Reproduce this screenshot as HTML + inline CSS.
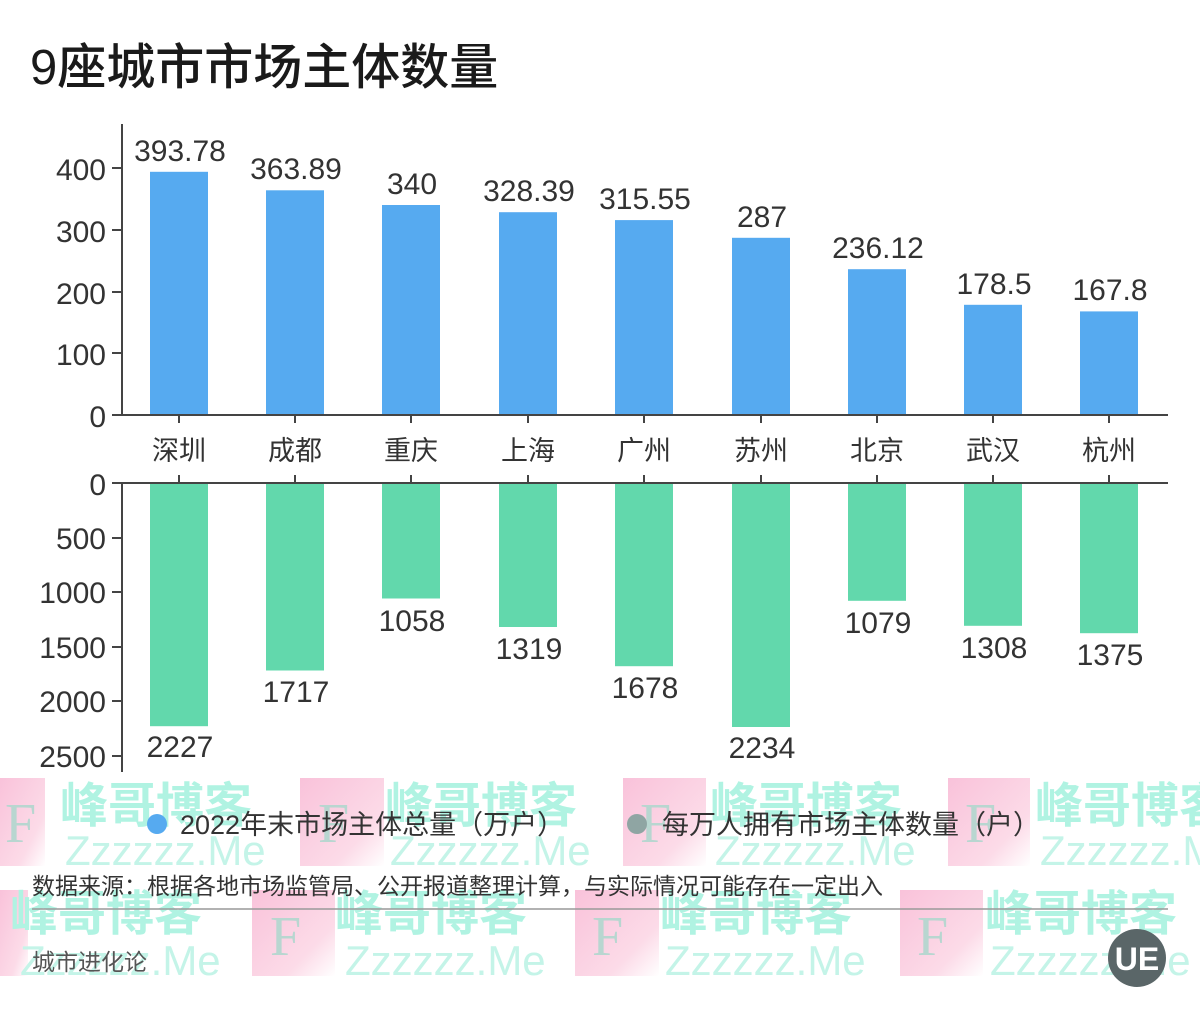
<!DOCTYPE html>
<html><head><meta charset="utf-8"><style>
html,body{margin:0;padding:0;background:#fff;}
svg{display:block;font-family:"Liberation Sans","Noto Sans CJK SC",sans-serif;}
</style></head><body>
<svg width="1200" height="1020" viewBox="0 0 1200 1020" xmlns="http://www.w3.org/2000/svg">
<rect width="1200" height="1020" fill="#fff"/>
<defs><linearGradient id="pk" x1="0" y1="0" x2="1" y2="1"><stop offset="0" stop-color="#f9c2da"/><stop offset="0.7" stop-color="#fcdbe8"/><stop offset="1" stop-color="#fff"/></linearGradient></defs>
<g fill="url(#pk)">
<rect x="0" y="778" width="45" height="88"/><rect x="300" y="778" width="84" height="88"/><rect x="623" y="778" width="83" height="88"/><rect x="948" y="778" width="82" height="88"/>
<rect x="0" y="890" width="28" height="86"/><rect x="252" y="890" width="83" height="86"/><rect x="575" y="890" width="84" height="86"/><rect x="900" y="890" width="83" height="86"/>
</g>
<g fill="#b8d6d0" font-family="Liberation Serif,serif" font-size="56">
<text x="5" y="842">F</text><text x="318" y="842">F</text><text x="640" y="842">F</text><text x="965" y="842">F</text>
<text x="270" y="955">F</text><text x="592" y="955">F</text><text x="917" y="955">F</text>
</g>
<g fill="#b0f3e2" font-weight="bold" font-size="48">
<text x="60" y="822">峰哥博客</text><text x="385" y="822">峰哥博客</text><text x="710" y="822">峰哥博客</text><text x="1035" y="822">峰哥博客</text>
<text x="10" y="930">峰哥博客</text><text x="335" y="930">峰哥博客</text><text x="660" y="930">峰哥博客</text><text x="985" y="930">峰哥博客</text>
</g>
<g fill="#c4f4e8" font-size="42">
<text x="65" y="865">Zzzzzz.Me</text><text x="390" y="865">Zzzzzz.Me</text><text x="715" y="865">Zzzzzz.Me</text><text x="1040" y="865">Zzzzzz.Me</text>
<text x="20" y="975">Zzzzzz.Me</text><text x="345" y="975">Zzzzzz.Me</text><text x="665" y="975">Zzzzzz.Me</text><text x="990" y="975">Zzzzzz.Me</text>
</g>
<text x="30" y="84" font-size="49" fill="#1a1a1a" font-weight="500">9座城市市场主体数量</text>
<g fill="#56aaf0">
<rect x="150" y="171.8" width="58" height="243.2"/>
<rect x="266" y="190.3" width="58" height="224.7"/>
<rect x="382" y="205" width="58" height="210"/>
<rect x="499" y="212.2" width="58" height="202.8"/>
<rect x="615" y="220.1" width="58" height="194.9"/>
<rect x="732" y="237.8" width="58" height="177.2"/>
<rect x="848" y="269.2" width="58" height="145.8"/>
<rect x="964" y="304.8" width="58" height="110.2"/>
<rect x="1080" y="311.4" width="58" height="103.6"/>
</g>
<g stroke="#444" stroke-width="2" fill="none">
<line x1="122" y1="124" x2="122" y2="415"/>
<line x1="112" y1="415" x2="1168" y2="415"/>
<line x1="112" y1="168" x2="122" y2="168"/><line x1="112" y1="230" x2="122" y2="230"/><line x1="112" y1="292" x2="122" y2="292"/><line x1="112" y1="353" x2="122" y2="353"/>
<path d="M179 415v8M295 415v8M411 415v8M528 415v8M644 415v8M761 415v8M877 415v8M993 415v8M1109 415v8"/>
</g>
<g font-size="30" fill="#333" text-anchor="end">
<text x="106" y="180">400</text><text x="106" y="242">300</text><text x="106" y="304">200</text><text x="106" y="365">100</text><text x="106" y="427">0</text>
</g>
<g font-size="30" fill="#333" text-anchor="middle">
<text x="180" y="161">393.78</text><text x="296" y="179">363.89</text><text x="412" y="194">340</text><text x="529" y="201">328.39</text><text x="645" y="209">315.55</text><text x="762" y="227">287</text><text x="878" y="258">236.12</text><text x="994" y="294">178.5</text><text x="1110" y="300">167.8</text>
</g>
<g font-size="27" fill="#333" text-anchor="middle">
<text x="179" y="460">深圳</text><text x="295" y="460">成都</text><text x="411" y="460">重庆</text><text x="528" y="460">上海</text><text x="644" y="460">广州</text><text x="761" y="460">苏州</text><text x="877" y="460">北京</text><text x="993" y="460">武汉</text><text x="1109" y="460">杭州</text>
</g>
<g fill="#62d8ac">
<rect x="150" y="483" width="58" height="243.2"/>
<rect x="266" y="483" width="58" height="187.5"/>
<rect x="382" y="483" width="58" height="115.5"/>
<rect x="499" y="483" width="58" height="144"/>
<rect x="615" y="483" width="58" height="183.2"/>
<rect x="732" y="483" width="58" height="244"/>
<rect x="848" y="483" width="58" height="117.8"/>
<rect x="964" y="483" width="58" height="142.8"/>
<rect x="1080" y="483" width="58" height="150.2"/>
</g>
<g stroke="#444" stroke-width="2" fill="none">
<line x1="122" y1="483" x2="122" y2="772"/>
<line x1="112" y1="483" x2="1168" y2="483"/>
<line x1="112" y1="538" x2="122" y2="538"/><line x1="112" y1="592" x2="122" y2="592"/><line x1="112" y1="647" x2="122" y2="647"/><line x1="112" y1="701" x2="122" y2="701"/><line x1="112" y1="756" x2="122" y2="756"/>
<path d="M179 483v-8M295 483v-8M411 483v-8M528 483v-8M644 483v-8M761 483v-8M877 483v-8M993 483v-8M1109 483v-8"/>
</g>
<g font-size="30" fill="#333" text-anchor="end">
<text x="106" y="495">0</text><text x="106" y="549">500</text><text x="106" y="603">1000</text><text x="106" y="658">1500</text><text x="106" y="712">2000</text><text x="106" y="767">2500</text>
</g>
<g font-size="30" fill="#333" text-anchor="middle">
<text x="180" y="757">2227</text><text x="296" y="702">1717</text><text x="412" y="631">1058</text><text x="529" y="659">1319</text><text x="645" y="698">1678</text><text x="762" y="758">2234</text><text x="878" y="633">1079</text><text x="994" y="658">1308</text><text x="1110" y="665">1375</text>
</g>
<circle cx="157" cy="824" r="10" fill="#56aaf0"/>
<text x="180" y="834" font-size="27" fill="#333">2022年末市场主体总量（万户）</text>
<circle cx="637" cy="824" r="10" fill="#8fa5a3"/>
<text x="662" y="834" font-size="27" fill="#333">每万人拥有市场主体数量（户）</text>
<text x="32" y="894" font-size="23" fill="#333">数据来源：根据各地市场监管局、公开报道整理计算，与实际情况可能存在一定出入</text>
<line x1="32" y1="909" x2="1168" y2="909" stroke="#999" stroke-width="1.5"/>
<text x="32" y="970" font-size="23" fill="#555">城市进化论</text>
<circle cx="1137" cy="958" r="29" fill="#5a6668"/>
<text x="1137" y="970" font-size="32" fill="#fff" text-anchor="middle" font-weight="bold">UE</text>
</svg>
</body></html>
